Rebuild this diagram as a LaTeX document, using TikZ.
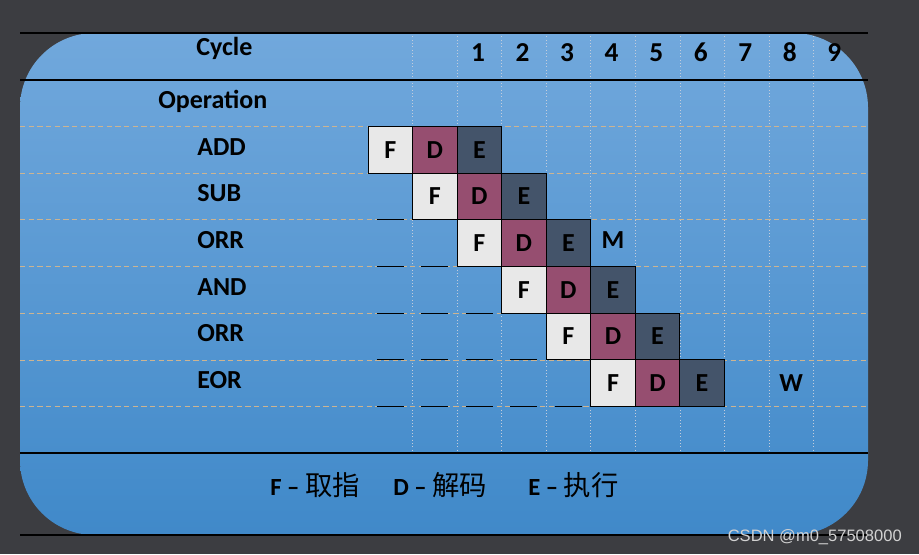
\documentclass[tikz,border=0pt]{standalone}
\usepackage{fontspec}
\setmainfont{Carlito}
\newfontfamily\cjk{Noto Sans CJK SC}
\newfontfamily\wmfont{Liberation Sans}
\usetikzlibrary{positioning}

\definecolor{bgdark}{RGB}{60,61,65}
\definecolor{bluetop}{RGB}{113,168,220}
\definecolor{bluebot}{RGB}{64,137,201}
\definecolor{fetchgray}{RGB}{232,232,232}
\definecolor{decodered}{RGB}{150,78,112}
\definecolor{execslate}{RGB}{68,84,106}
\definecolor{gridtan}{RGB}{205,180,145}
\definecolor{gridgray}{RGB}{195,205,220}

\tikzset{
  cell/.style={minimum width=33.4pt, minimum height=35pt, inner sep=0pt, outer sep=0pt,
    font=\bfseries\fontsize{19.5}{19.5}\selectfont},
  stage/.style={cell, draw=black, line width=0.8pt},
  fetch/.style={stage, fill=fetchgray},
  decode/.style={stage, fill=decodered},
  exec/.style={stage, fill=execslate},
  oplabel/.style={anchor=base west, inner sep=0pt, font=\bfseries\fontsize{19.5}{19.5}\selectfont},
  cyclenum/.style={anchor=base, inner sep=0pt, font=\bfseries\fontsize{20.5}{20.5}\selectfont},
  legend/.style={anchor=base west, inner sep=0pt, font=\bfseries\fontsize{18.5}{18.5}\selectfont},
  rowline/.style={gridtan, line width=0.6pt, dash pattern=on 4pt off 2.5pt},
  colline/.style={gridgray, line width=0.5pt, dotted},
  rule/.style={black, line width=0.8pt},
  gap/.style={black, line width=0.7pt}
}

\begin{document}
\begin{tikzpicture}[x=0.75pt, y=-0.75pt]
  \fill[bgdark] (0,0) rectangle (919,554);
  \useasboundingbox (0,0) rectangle (919,554);
  \shade[top color=bluetop, bottom color=bluebot, rounded corners=56pt] (20,33) rectangle (868,535);

  % table grid
  \foreach \k in {1,...,10}
    \draw[colline] ({368+44.55*\k},33) -- ({368+44.55*\k},453);
  \foreach \r in {2,...,8}
    \draw[rowline] (20,{33+46.7*\r}) -- (868,{33+46.7*\r});
  \draw[rule] (20,33) -- (868,33);
  \draw[rule] (20,80) -- (868,80);
  \draw[rule] (20,453) -- (868,453);
  \draw[rule] (20,535) -- (868,535);

  % empty slots before each fetch
  \foreach \r in {3,...,7}{
    \pgfmathtruncatemacro\last{\r-3}
    \foreach \c in {0,...,\last}
      \draw[gap] ({376.8+44.55*\c},{33+46.7*(\r+1)}) -- ({403.8+44.55*\c},{33+46.7*(\r+1)});
  }

  \node[oplabel] (cycle) at (196,55) {Cycle};
  \node[oplabel] (operation) at (158,108) {Operation};
  \foreach \n in {1,...,9}
    \node[cyclenum] (N\n) at ({478+44.55*(\n-1)},61) {\n};

  \node[oplabel] (add) at (197,155) {ADD};
  \node[oplabel] (sub) at (197,201.7) {SUB};
  \node[oplabel] (orr) at (197,248.4) {ORR};
  \node[oplabel] (and) at (197,295.1) {AND};
  \node[oplabel] (orrb) at (197,341.8) {ORR};
  \node[oplabel] (eor) at (197,388.5) {EOR};

  % pipeline stages
  \node[fetch] (F1) at (390.3,149.8) {F};
  \node[decode, right=0pt of F1] (D1) {D};
  \node[exec, right=0pt of D1] (E1) {E};
  \node[fetch, below=0pt of D1] (F2) {F};
  \node[decode, right=0pt of F2] (D2) {D};
  \node[exec, right=0pt of D2] (E2) {E};
  \node[fetch, below=0pt of D2] (F3) {F};
  \node[decode, right=0pt of F3] (D3) {D};
  \node[exec, right=0pt of D3] (E3) {E};
  \node[cell, right=0pt of E3, yshift=2pt] (M3) {M};
  \node[fetch, below=0pt of D3] (F4) {F};
  \node[decode, right=0pt of F4] (D4) {D};
  \node[exec, right=0pt of D4] (E4) {E};
  \node[fetch, below=0pt of D4] (F5) {F};
  \node[decode, right=0pt of F5] (D5) {D};
  \node[exec, right=0pt of D5] (E5) {E};
  \node[fetch, below=0pt of D5] (F6) {F};
  \node[decode, right=0pt of F6] (D6) {D};
  \node[exec, right=0pt of D6] (E6) {E};
  \node[cell, right=33.4pt of E6] (W6) {W};

  \node[legend] (legF) at (270,495) {F – {\cjk\mdseries\fontsize{20.5}{20.5}\selectfont 取指}};
  \node[legend] (legD) at (393,495) {D – {\cjk\mdseries\fontsize{20.5}{20.5}\selectfont 解码}};
  \node[legend] (legE) at (528,495) {E – {\cjk\mdseries\fontsize{20.5}{20.5}\selectfont 执行}};

  \node[anchor=base east, inner sep=0pt, text=gray!35, font=\wmfont\fontsize{12.4}{12.4}\selectfont] (mark) at (902,541) {CSDN @m0\_57508000};
\end{tikzpicture}
\end{document}
